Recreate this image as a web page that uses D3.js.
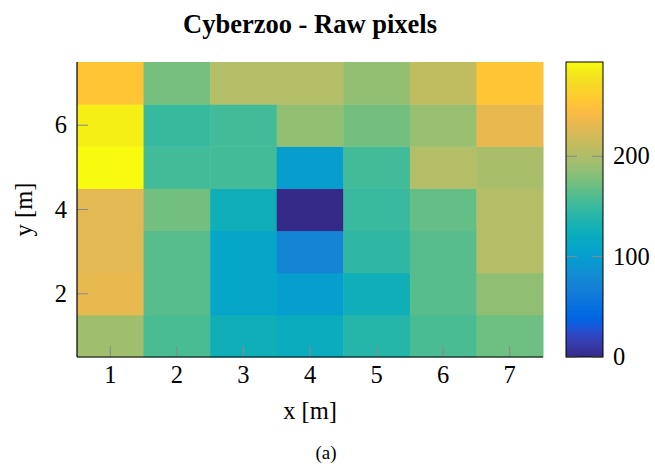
<!DOCTYPE html>
<html><head><meta charset="utf-8">
<script src="https://cdn.jsdelivr.net/npm/d3@7"></script>
<style>body{margin:0;background:#fff}svg{display:block}</style>
</head><body>
<svg id="c" width="655" height="465"></svg>
<script>
// grid coordinates
const xs = [1,2,3,4,5,6,7];
const ys = [1,2,3,4,5,6,7];
// pixel values, rows from y=1 (bottom) to y=7 (top), columns x=1..7
const row1 = [193,157,127,122,140,157,171];
const row2 = [233,163,110,102,126,163,186];
const row3 = [229,163,110, 75,145,163,203];
const row4 = [229,173,126,  0,150,168,203];
const row5 = [294,154,155,100,154,203,198];
const row6 = [287,149,154,187,173,190,233];
const row7 = [254,175,203,203,187,210,255];
const rows = [row1,row2,row3,row4,row5,row6,row7];
const xTicks = [1,2,3,4,5,6,7];
const yTicks = [2,4,6];
const cbTicks = [0,100,200];
const cbRange = [0,294];

const FONT = "'Liberation Serif','Tinos','Times New Roman','Times','DejaVu Serif',serif";

const parula = [[0.2081,0.1663,0.5292],[0.2116,0.1898,0.5777],[0.2123,0.2138,0.6270],[0.2081,0.2386,0.6771],[0.1959,0.2645,0.7279],[0.1707,0.2919,0.7792],[0.1253,0.3242,0.8303],[0.0591,0.3598,0.8683],[0.0117,0.3875,0.8820],[0.0060,0.4086,0.8828],[0.0165,0.4266,0.8786],[0.0329,0.4430,0.8720],[0.0498,0.4586,0.8641],[0.0629,0.4737,0.8554],[0.0723,0.4887,0.8467],[0.0779,0.5040,0.8384],[0.0793,0.5200,0.8312],[0.0749,0.5375,0.8263],[0.0641,0.5570,0.8240],[0.0488,0.5772,0.8228],[0.0343,0.5966,0.8199],[0.0265,0.6137,0.8135],[0.0239,0.6287,0.8038],[0.0231,0.6418,0.7913],[0.0228,0.6535,0.7768],[0.0267,0.6642,0.7607],[0.0384,0.6743,0.7436],[0.0590,0.6838,0.7254],[0.0843,0.6928,0.7062],[0.1133,0.7015,0.6859],[0.1453,0.7098,0.6646],[0.1801,0.7177,0.6424],[0.2178,0.7250,0.6193],[0.2586,0.7317,0.5954],[0.3022,0.7376,0.5712],[0.3482,0.7424,0.5473],[0.3953,0.7459,0.5244],[0.4420,0.7481,0.5033],[0.4871,0.7491,0.4840],[0.5300,0.7491,0.4661],[0.5709,0.7485,0.4494],[0.6099,0.7473,0.4337],[0.6473,0.7456,0.4188],[0.6834,0.7435,0.4044],[0.7184,0.7411,0.3905],[0.7525,0.7384,0.3768],[0.7858,0.7356,0.3633],[0.8185,0.7327,0.3498],[0.8507,0.7299,0.3360],[0.8824,0.7274,0.3217],[0.9139,0.7258,0.3063],[0.9450,0.7261,0.2886],[0.9739,0.7314,0.2666],[0.9938,0.7455,0.2403],[0.9990,0.7653,0.2164],[0.9955,0.7861,0.1967],[0.9880,0.8066,0.1794],[0.9789,0.8271,0.1633],[0.9697,0.8481,0.1475],[0.9626,0.8705,0.1309],[0.9589,0.8949,0.1132],[0.9598,0.9218,0.0948],[0.9661,0.9514,0.0755],[0.9763,0.9831,0.0538]];
const parulaColors = parula.map(c => d3.rgb(c[0]*255,c[1]*255,c[2]*255).formatHex());
const interp = d3.piecewise(d3.interpolateRgb, parulaColors);
const color = d3.scaleSequential(interp).domain(cbRange);

const svg = d3.select("#c").style("font-family", FONT);
const L=77, R=543, T=62, B=357;
const x = d3.scaleLinear().domain([0.5,7.5]).range([L,R]);
const y = d3.scaleLinear().domain([0.5,7.5]).range([B,T]);

const cells = [];
rows.forEach((r,i)=>r.forEach((v,j)=>cells.push({x:xs[j],y:ys[i],v})));
svg.append("g").selectAll("rect").data(cells).join("rect")
  .attr("x",d=>x(d.x-0.5)).attr("y",d=>y(d.y+0.5))
  .attr("width",d=>x(d.x+0.5)-x(d.x-0.5)+0.5).attr("height",d=>y(d.y-0.5)-y(d.y+0.5)+0.5)
  .attr("fill",d=>color(d.v));

const TL = 11;
// ticks (gray, inside)
const tg = svg.append("g").attr("stroke","#8a8a8a").attr("stroke-width",1);
xTicks.forEach(t=>tg.append("line").attr("x1",x(t)).attr("x2",x(t)).attr("y1",B).attr("y2",B-TL));
yTicks.forEach(t=>tg.append("line").attr("x1",L).attr("x2",L+TL).attr("y1",y(t)).attr("y2",y(t)));
// axis lines
svg.append("line").attr("x1",L).attr("x2",L).attr("y1",T).attr("y2",B).attr("stroke","#000").attr("stroke-width",1.2);
svg.append("line").attr("x1",L).attr("x2",R).attr("y1",B).attr("y2",B).attr("stroke","#000").attr("stroke-width",1.2);

function txt(sel){ return sel.attr("font-family",FONT).attr("fill","#000"); }
const FS = 24.5;
// tick labels
txt(svg.append("g").selectAll("text").data(xTicks).join("text"))
  .attr("x",d=>x(d)).attr("y",383).attr("text-anchor","middle").attr("font-size",FS).text(d=>d);
txt(svg.append("g").selectAll("text").data(yTicks).join("text"))
  .attr("x",67).attr("y",d=>y(d)+8).attr("text-anchor","end").attr("font-size",FS).text(d=>d);

txt(svg.append("text")).attr("x",x(4)).attr("y",419).attr("text-anchor","middle").attr("font-size",FS).text("x [m]");
txt(svg.append("text")).attr("transform",`translate(32,${y(4)}) rotate(-90)`).attr("text-anchor","middle").attr("font-size",FS).text("y [m]");
txt(svg.append("text")).attr("x",(L+R)/2).attr("y",33).attr("text-anchor","middle").attr("font-size",26.5).attr("font-weight","bold").text("Cyberzoo - Raw pixels");
txt(svg.append("text")).attr("x",326).attr("y",459).attr("text-anchor","middle").attr("font-size",19).text("(a)");

// colorbar
const CL=566, CR=603;
const cy = d3.scaleLinear().domain(cbRange).range([B,T]);
const defs = svg.append("defs");
const grad = defs.append("linearGradient").attr("id","g").attr("x1",0).attr("x2",0).attr("y1",1).attr("y2",0);
parulaColors.forEach((c,i)=>grad.append("stop").attr("offset",i/(parulaColors.length-1)).attr("stop-color",c));
svg.append("rect").attr("x",CL).attr("y",T).attr("width",CR-CL).attr("height",B-T).attr("fill","url(#g)");
const cg = svg.append("g").attr("stroke","#8a8a8a");
cbTicks.forEach(t=>{
  cg.append("line").attr("x1",CL).attr("x2",CL+TL).attr("y1",cy(t)).attr("y2",cy(t));
  cg.append("line").attr("x1",CR-TL).attr("x2",CR).attr("y1",cy(t)).attr("y2",cy(t));
});
svg.append("rect").attr("x",CL).attr("y",T).attr("width",CR-CL).attr("height",B-T).attr("fill","none").attr("stroke","#000").attr("stroke-width",1);
txt(svg.append("g").selectAll("text").data(cbTicks).join("text"))
  .attr("x",613).attr("y",d=>cy(d)+8).attr("font-size",FS).text(d=>d);
</script>
</body></html>
